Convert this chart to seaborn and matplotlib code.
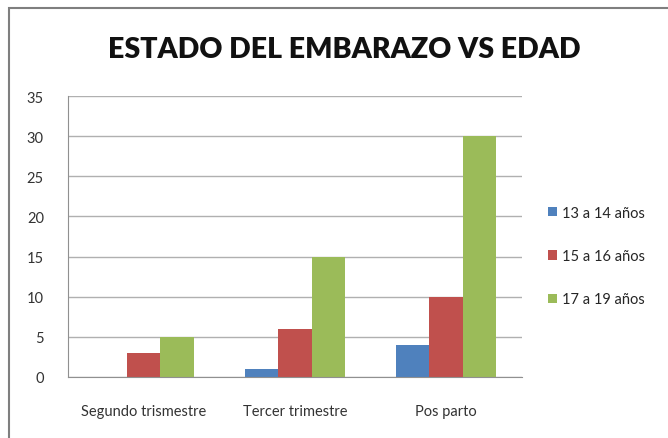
import seaborn as sns
import matplotlib.pyplot as plt
import matplotlib.patches as mpatches
import pandas as pd

# Data
categories = ["Segundo trismestre", "Tercer trimestre", "Pos parto"]
edad_13_14 = [0, 1, 4]
edad_15_16 = [3, 6, 10]
edad_17_19 = [5, 15, 30]
groups = ["13 a 14 años", "15 a 16 años", "17 a 19 años"]
colors = ["#4F81BD", "#C0504D", "#9BBB59"]

rows = []
for g, vals in zip(groups, [edad_13_14, edad_15_16, edad_17_19]):
    for c, v in zip(categories, vals):
        rows.append({"Estado": c, "Edad": g, "Casos": v})
df = pd.DataFrame(rows)

sns.set_style("white")
plt.rcParams["font.family"] = ["Lato", "DejaVu Sans"]

fig = plt.figure(figsize=(6.68, 4.39), dpi=100)
ax = fig.add_axes([0.102, 0.139, 0.679, 0.640])

sns.barplot(data=df, x="Estado", y="Casos", hue="Edad", order=categories,
            hue_order=groups, palette=colors, width=0.66, saturation=1,
            edgecolor="none", ax=ax)

ax.set_ylim(0, 35)
ax.set_yticks(range(0, 36, 5))
ax.set_xlim(-0.5, 2.5)
ax.yaxis.grid(True, color="#b0b0b0", linewidth=1)
ax.set_axisbelow(True)
ax.set_xlabel("")
ax.set_ylabel("")
for s in ["top", "right"]:
    ax.spines[s].set_visible(False)
ax.spines["left"].set_color("#909090")
ax.spines["bottom"].set_color("#909090")
ax.tick_params(axis="y", labelsize=10.5, colors="#333333", pad=14)
ax.tick_params(axis="x", labelsize=10.5, colors="#333333", pad=16)

fig.text(0.515, 0.885, "ESTADO DEL EMBARAZO VS EDAD", ha="center", va="center",
         fontsize=20.5, fontweight="heavy", color="#111111")

leg = ax.legend(loc="center left", bbox_to_anchor=(1.03, 0.43), frameon=False,
                fontsize=10.5, labelspacing=2.0, handlelength=0.6,
                handleheight=0.6, handletextpad=0.3)

# chart frame
fig.patches.append(mpatches.Rectangle((0.013, -0.02), 1.1, 1.0, transform=fig.transFigure,
                                      fill=False, edgecolor="#7f7f7f", linewidth=1.5))

fig.savefig("out.png", dpi=100)
